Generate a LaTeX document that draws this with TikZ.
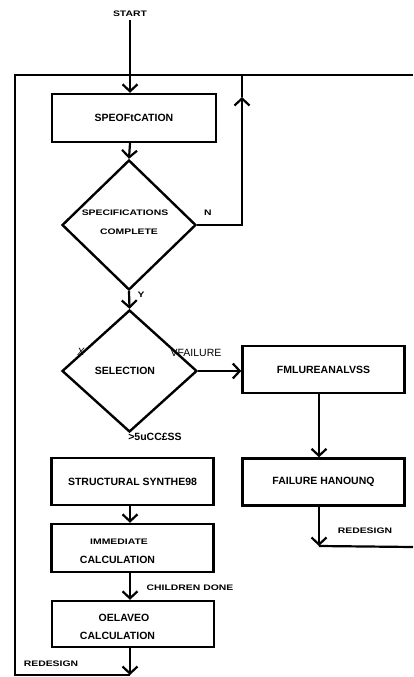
\documentclass[tikz,border=0pt]{standalone}
\usepackage{fontspec}
\setmainfont{Liberation Sans}
\usepackage{graphicx}
\usetikzlibrary{arrows.meta,shapes.geometric}
\newcommand{\wlab}[1]{\scalebox{1.3}[1]{#1}}
\begin{document}
\begin{tikzpicture}[x=1pt,y=-1pt,
  flow/.style={line width=2.2pt},
  arr/.style={flow,-{Straight Barb[length=7pt,width=15pt]}},
  box/.style={draw,line width=2.4pt,minimum width=162pt,minimum height=47pt,inner sep=0pt,font=\bfseries\fontsize{10.5}{12}\selectfont},
  dia/.style={draw,diamond,line width=2.4pt,inner sep=0pt},
  tag/.style={font=\bfseries\fontsize{8}{9}\selectfont,inner sep=0pt},
  txt/.style={font=\bfseries\fontsize{10.5}{12}\selectfont,inner sep=0pt}
]
\useasboundingbox (0,0) rectangle (413,677);
\node[tag] (start) at (130,14) {\wlab{START}};
\coordinate (startl) at (130,20);
\node[box, minimum width=164pt, minimum height=48pt] (spec) at (134,118) {SPEOFtCATION};
\node[dia, minimum width=134pt, minimum height=130pt] (d1) at (129,225) {};
\node[tag] (d1a) at (125,213) {\wlab{SPECIFICATIONS}};
\node[tag] (d1b) at (129,232) {\wlab{COMPLETE}};
\node[tag] (nlab) at (208,213) {\wlab{N}};
\node[tag] (ylab) at (141,295) {\wlab{Y}};
\node[dia, minimum width=135pt, minimum height=122pt] (d2) at (129.5,371) {};
\node[txt] (sel) at (125,371) {SELECTION};
\node[txt,font=\itshape\fontsize{10.5}{12}\selectfont] (xlab) at (81,352) {X};
\node[txt,font=\fontsize{10.5}{12}\selectfont] (flab) at (196,353) {VFAILURE};
\node[txt] (slab) at (155,437) {>5uCC£SS};
\node[box] (fa) at (323.5,369.5) {FMLUREANALVSS};
\node[box] (fh) at (323.5,482) {FAILURE HANOUNQ};
\node[box] (ss) at (132.5,481.5) {STRUCTURAL SYNTHE98};
\node[box, minimum height=48pt] (ic) at (132.5,548) {};
\node[tag] (ic1) at (119,542) {\wlab{IMMEDIATE}};
\node[txt] (ic2) at (117.5,560) {CALCULATION};
\node[box, minimum height=46pt] (dc) at (133,624) {};
\node[txt] (dc1) at (124,618) {OELAVEO};
\node[txt] (dc2) at (117.5,636) {CALCULATION};
\node[tag] (cd) at (190,588) {\wlab{CHILDREN DONE}};
\node[tag] (rd1) at (365,531) {\wlab{REDESIGN}};
\node[tag] (rd2) at (51,664) {\wlab{REDESIGN}};
% connectors
\draw[arr] (startl) -- (startl |- spec.north);
\draw[arr] (startl |- spec.south) -- (d1.north);
\coordinate (na) at (242,97);
\coordinate (nt) at (242,75);
\draw[arr] (d1.east) -| (na);
\draw[flow] (na) -- (nt);
\draw[arr] (d1.south) -- (d2.north);
\draw[arr] (d2.east) -- (d2.east -| fa.west);
\coordinate (fx) at (319,0);
\draw[arr] (fx |- fa.south) -- (fx |- fh.north);
\coordinate (rc) at (319,546);
\coordinate (re) at (413,547);
\draw[arr] (fx |- fh.south) -- (rc);
\draw[flow] (rc) -- (re);
\draw[arr] (startl |- ss.south) -- (startl |- ic.north);
\draw[arr] (startl |- ic.south) -- (startl |- dc.north);
\coordinate (bc) at (130,675);
\coordinate (bl) at (15,675);
\coordinate (tl) at (15,75);
\coordinate (tr) at (413,75);
\draw[arr] (startl |- dc.south) -- (bc);
\draw[flow] (bc) -- (bl) -- (tl) -- (tr);
\end{tikzpicture}
\end{document}
